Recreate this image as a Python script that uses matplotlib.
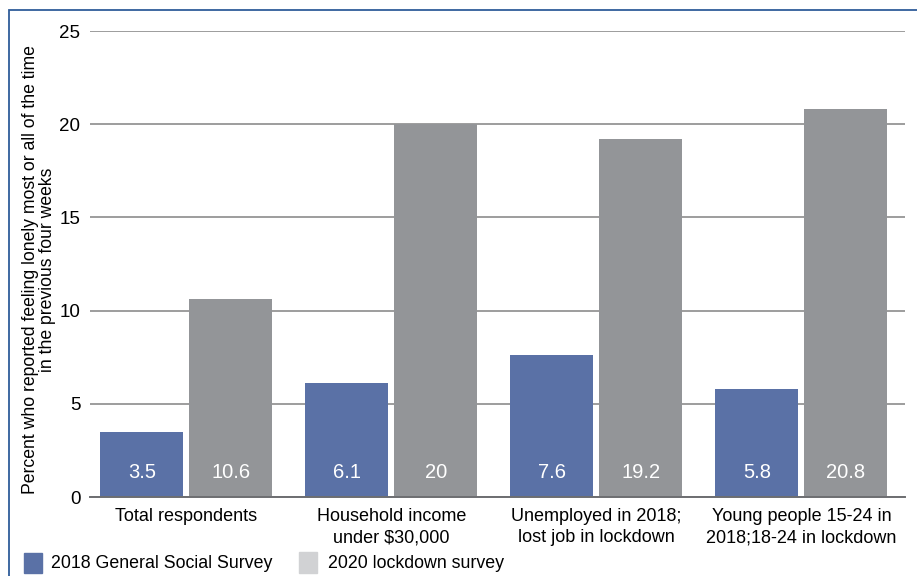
import matplotlib
matplotlib.use("Agg")
import matplotlib.pyplot as plt
from matplotlib.patches import Rectangle
import numpy as np

categories = ["Total respondents", "Household income\nunder $30,000",
              "Unemployed in 2018;\nlost job in lockdown", "Young people 15-24 in\n2018;18-24 in lockdown"]
series_2018 = [3.5, 6.1, 7.6, 5.8]
series_2020 = [10.6, 20, 19.2, 20.8]
labels_2018 = ["3.5", "6.1", "7.6", "5.8"]
labels_2020 = ["10.6", "20", "19.2", "20.8"]
yticks = [0, 5, 10, 15, 20, 25]
legend_names = ["2018 General Social Survey", "2020 lockdown survey"]

BLUE = "#5a71a6"
GRAY = "#939598"
LEG_GRAY = "#d1d2d4"
SANS = ["Liberation Sans", "DejaVu Sans"]

fig = plt.figure(figsize=(9.17, 5.76), dpi=100)
ax = fig.add_axes([90/917, 1-497/576, (905-90)/917, (497-31)/576])

x = np.arange(len(categories))
w = 0.405
off = 0.217
ax.bar(x - off, series_2018, w, color=BLUE, zorder=3)
ax.bar(x + off, series_2020, w, color=GRAY, zorder=3)
for xi, lab in zip(x - off, labels_2018):
    ax.text(xi, 1.3, lab, color="white", ha="center", va="center", fontsize=14.5, family=SANS, zorder=4)
for xi, lab in zip(x + off, labels_2020):
    ax.text(xi, 1.3, lab, color="white", ha="center", va="center", fontsize=14.5, family=SANS, zorder=4)

ax.set_xlim(-0.47, 3.505)
ax.set_ylim(0, 25)
ax.set_yticks(yticks)
ax.set_yticklabels([str(t) for t in yticks], family=SANS, fontsize=13.5)
ax.yaxis.grid(True, color="#8c8c8c", linewidth=1.2, zorder=0)
ax.tick_params(axis="y", length=0, pad=7)
ax.tick_params(axis="x", length=0, pad=8)
ax.set_xticks(x)
ax.set_xticklabels(categories, family=SANS, fontsize=13, linespacing=1.32)
for s in ["top", "right", "left"]:
    ax.spines[s].set_visible(False)
ax.spines["bottom"].set_color("#6d6e71")
ax.spines["bottom"].set_linewidth(1.4)
ax.spines["bottom"].set_zorder(5)

ax.set_ylabel("Percent who reported feeling lonely most or all of the time\nin the previous four weeks",
              family=SANS, fontsize=12.7, linespacing=0.95)
ax.yaxis.set_label_coords(-0.042, 0.487)

# legend
fig.patches.append(Rectangle((24/917, 1-573/576), 18/917, 20/576, transform=fig.transFigure,
                             color=BLUE, figure=fig))
fig.text(51/917, 1-563/576, legend_names[0], family=SANS, fontsize=12.8, va="center", ha="left")
fig.patches.append(Rectangle((299/917, 1-573/576), 18/917, 21/576, transform=fig.transFigure,
                             color=LEG_GRAY, figure=fig))
fig.text(328/917, 1-563/576, legend_names[1], family=SANS, fontsize=12.8, va="center", ha="left")

# frame
fig.patches.append(Rectangle((9/917, -0.2), 1.2, 1 - 10/576 + 0.2, transform=fig.transFigure,
                             fill=False, edgecolor="#2f5d9a", linewidth=1.3, figure=fig))

fig.savefig("out.png", dpi=100)
